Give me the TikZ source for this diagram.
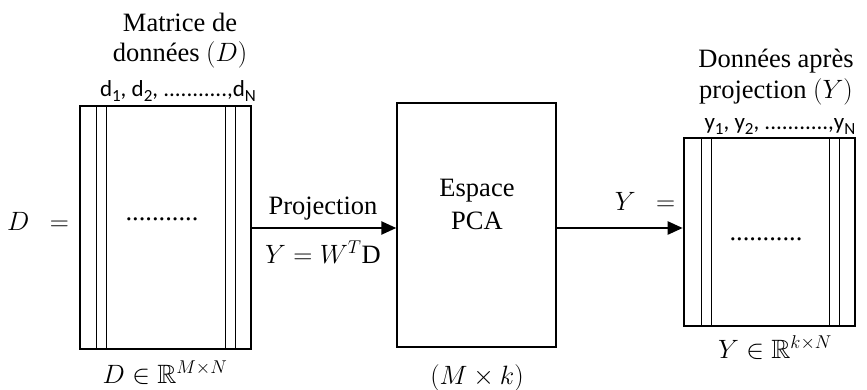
\RequirePackage{fix-cm}
\documentclass[tikz,border=0pt]{standalone}
\usepackage{amssymb}
\usepackage{fontspec}
\setmainfont{Liberation Serif}
\newfontfamily\calib{Carlito}
\usetikzlibrary{arrows.meta}
\tikzset{
  mat/.style={draw, line width=2.6pt, inner sep=0pt},
  pcabox/.style={draw, line width=1.4pt, inner sep=0pt, minimum width=159pt, minimum height=244pt},
  col/.style={line width=0.9pt},
  conn/.style={line width=2.4pt, -{Triangle[length=15pt,width=13pt]}},
  txt/.style={font=\fontsize{26.5}{33}\selectfont, inner sep=0pt, anchor=base},
  stxt/.style={font=\calib\fontsize{23}{28}\selectfont, inner sep=0pt, anchor=base},
}
\newcommand{\subsc}[1]{\raisebox{-0.22em}{\fontsize{17}{20}\selectfont #1}}
\begin{document}
\begin{tikzpicture}[x=1pt,y=-1pt]
\useasboundingbox (0,0) rectangle (867,389);
% left matrix
\node[mat, minimum width=171pt, minimum height=243pt] (D) at (165.5,227.5) {};
\draw[col] (96,106) -- (96,349) (106,106) -- (106,349) (225,106) -- (225,349) (235,106) -- (235,349);
\node[txt] (Dtitle1) at (180,31) {Matrice de};
\node[txt] (Dtitle2) at (180,61) {données $(D)$};
\node[stxt] (Dcols) at (178,96) {d\subsc{1}, d\subsc{2}, ...........,d\subsc{N}};
\node[txt] (Deq) at (38,230) {$D\ \ =$};
\node[txt] (Ddots) at (162,220) {...........};
\node[txt] (Dspace) at (165,383) {$D\in\mathbb{R}^{M\times N}$};
% PCA
\node[pcabox] (pca) at (476.5,225) {};
\node[txt] (pcatxt1) at (477,196) {Espace};
\node[txt] (pcatxt2) at (477,229) {PCA};
\node[txt] (pcadim) at (477,384) {$(M\times k)$};
% right matrix
\node[mat, minimum width=171pt, minimum height=188pt] (Y) at (769.5,232) {};
\draw[col] (701,138) -- (701,326) (711,138) -- (711,326) (829,138) -- (829,326) (839,138) -- (839,326);
\node[txt] (Ytitle1) at (776,67) {Données après};
\node[txt] (Ytitle2) at (776,98) {projection $(Y)$};
\node[stxt] (Ycols) at (780,129) {y\subsc{1}, y\subsc{2}, ...........,y\subsc{N}};
\node[txt] (Yeq) at (645,210) {$Y\ \ =$};
\node[txt] (Ydots) at (766,240) {...........};
\node[txt] (Yspace) at (775,358) {$Y\in\mathbb{R}^{k\times N}$};
% arrows
\draw[conn] (D.east |- 0,228) -- (pca.west |- 0,228);
\node[txt] (proj) at (323,214) {Projection};
\node[txt] (projeq) at (323,263) {$Y=W^{T}\mathrm{D}$};
\draw[conn] (pca.east |- 0,228) -- (Y.west |- 0,228);
\end{tikzpicture}
\end{document}
